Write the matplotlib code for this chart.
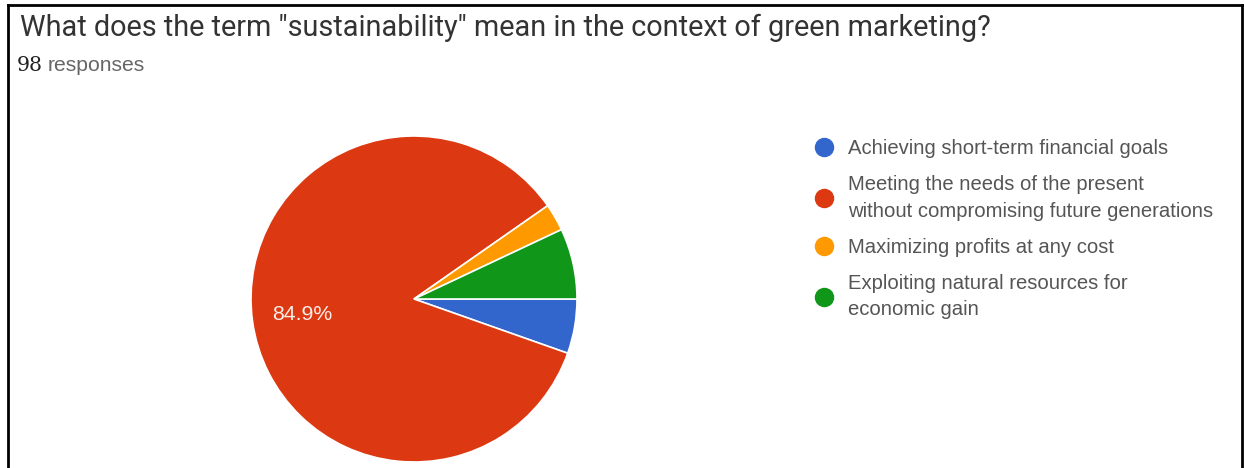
import matplotlib.pyplot as plt
from matplotlib.lines import Line2D

title = 'What does the term "sustainability" mean in the context of green marketing?'
n_responses = 98
labels = [
    "Achieving short-term financial goals",
    "Meeting the needs of the present\nwithout compromising future generations",
    "Maximizing profits at any cost",
    "Exploiting natural resources for\neconomic gain",
]
shares = [5.4, 84.9, 2.7, 7.0]
colors = ["#3366cc", "#dc3912", "#ff9900", "#109618"]

W, H = 1244, 468
fig = plt.figure(figsize=(W / 100, H / 100), dpi=100)
fig.patch.set_facecolor("white")

# frame around the card (open at the bottom)
frame = dict(color="black", lw=2, transform=fig.transFigure)
fig.add_artist(Line2D([8 / W, 8 / W], [0, 1 - 5 / H], **frame))
fig.add_artist(Line2D([8 / W, 1242 / W], [1 - 5 / H, 1 - 5 / H], **frame))
fig.add_artist(Line2D([1242 / W, 1242 / W], [0, 1 - 5 / H], **frame))

fig.text(20 / W, 1 - 28 / H, title, fontsize=20.8, color="#333333",
         family="Roboto", va="center", ha="left")
fig.text(17 / W, 1 - 71 / H, str(n_responses), fontsize=14.7, color="#222222",
         family="DejaVu Serif", va="baseline", ha="left")
fig.text(48 / W, 1 - 71 / H, "responses", fontsize=15.2, color="#666666",
         family="Liberation Sans", va="baseline", ha="left")

# pie
cx, cy, r = 414, 299, 163
ax = fig.add_axes([(cx - r) / W, (H - cy - r) / H, 2 * r / W, 2 * r / H])
wedges, texts, autotexts = ax.pie(
    shares,
    colors=colors,
    startangle=0,
    counterclock=False,
    autopct=lambda p: f"{p:.1f}%" if p > 10 else "",
    pctdistance=0.69,
    wedgeprops=dict(edgecolor="white", linewidth=1.2),
    textprops=dict(color="#fbeee8", fontsize=15.3, family="Liberation Sans"),
)
ax.set_xlim(-1, 1)
ax.set_ylim(-1, 1)
ax.axis("off")

handles = [
    Line2D([], [], marker="o", linestyle="none", markersize=13,
           markerfacecolor=c, markeredgecolor=c)
    for c in colors
]
leg = fig.legend(
    handles, labels,
    loc="upper left",
    bbox_to_anchor=(814 / W, 1 - 139 / H),
    frameon=False,
    prop=dict(family="Liberation Sans", size=14.6),
    handletextpad=0.7,
    labelspacing=0.85,
    handlelength=1.0,
    borderaxespad=0,
    borderpad=0,
)
for t in leg.get_texts():
    t.set_color("#555555")
    t.set_linespacing(1.49)

fig.savefig("out.png", dpi=100, facecolor="white")
